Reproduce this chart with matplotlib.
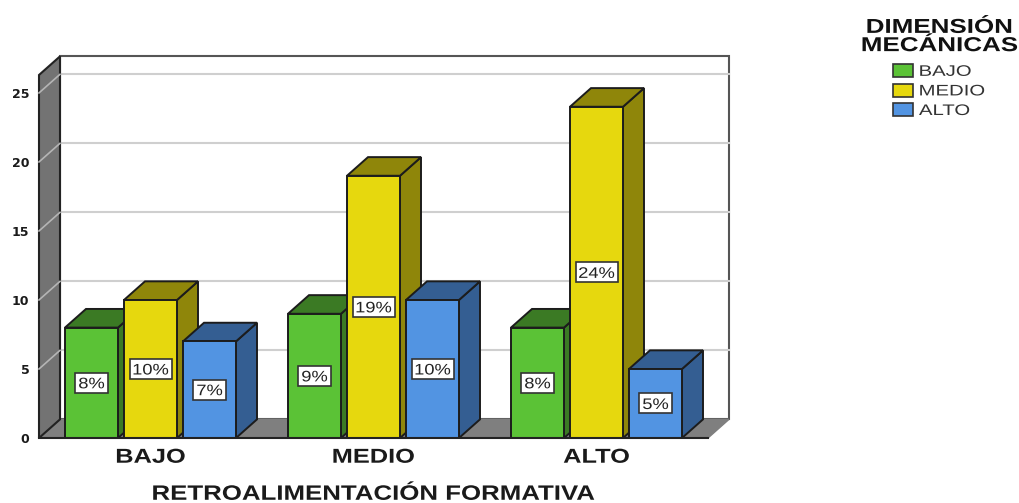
import matplotlib
matplotlib.use("Agg")
import matplotlib.pyplot as plt
from matplotlib.patches import Polygon, Rectangle
from matplotlib.patheffects import AbstractPathEffect
from matplotlib.transforms import Affine2D

categories = ["BAJO", "MEDIO", "ALTO"]
series_names = ["BAJO", "MEDIO", "ALTO"]
values_bajo = [8, 9, 8]
values_medio = [10, 19, 24]
values_alto = [7, 10, 5]
yticks = [0, 5, 10, 15, 20, 25]

front_colors = ["#5BC236", "#E6D80E", "#5294E2"]
top_colors = ["#3B7A24", "#8F860A", "#345E92"]
edge = "#1c1c1c"


class Stretch(AbstractPathEffect):
    # the reference text is wider than the font, stretch it sideways
    def __init__(self, sx, anchor=0.5):
        super().__init__()
        self.sx = sx
        self.anchor = anchor

    def draw_path(self, renderer, gc, tpath, affine, rgbFace=None):
        ext = tpath.get_extents()
        cx = ext.x0 + self.anchor * (ext.x1 - ext.x0)
        local = Affine2D().translate(-cx, 0).scale(self.sx, 1).translate(cx, 0)
        renderer.draw_path(gc, tpath, local + affine, rgbFace)


W, H = 1019, 503
fig = plt.figure(figsize=(W / 100, H / 100), dpi=100)
ax = fig.add_axes([39 / W, (H - 438) / H, 669 / W, 363 / H])
ax.set_xlim(-0.5, 2.5)
ax.set_ylim(0, 26.3)

# depth of the fake 3d box, in data units
ddx = 21 / 223
ddy = 1.35
top = 26.3
bar_w = 53 / 223
step = 59 / 223


def poly(pts, fc, ec=edge, lw=1.4, z=2):
    ax.add_patch(Polygon(pts, closed=True, fc=fc, ec=ec, lw=lw, zorder=z, clip_on=False))


# back wall, floor, left wall
poly([(-0.5 + ddx, ddy), (2.5 + ddx, ddy), (2.5 + ddx, top + ddy), (-0.5 + ddx, top + ddy)], "white", "#555555", 1.5, 1)
poly([(-0.5, 0), (2.5, 0), (2.5 + ddx, ddy), (-0.5 + ddx, ddy)], "#7F7F7F", "#7F7F7F", 1.0, 1.2)
for t in yticks[1:]:
    ax.plot([-0.5 + ddx, 2.5 + ddx], [t + ddy, t + ddy], color="#CFCFCF", lw=1.5, zorder=1.1, clip_on=False)
poly([(-0.5, 0), (-0.5 + ddx, ddy), (-0.5 + ddx, top + ddy), (-0.5, top)], "#737373", "#222222", 1.5, 1.3)
for t in yticks[1:]:
    ax.plot([-0.5, -0.5 + ddx], [t, t + ddy], color="#B5B5B5", lw=1.2, zorder=1.4, clip_on=False)

# bars, left to right so the later ones cover the sides of the earlier ones
all_values = [values_bajo, values_medio, values_alto]
z = 3
for c in range(len(categories)):
    for s in range(3):
        v = all_values[s][c]
        x0 = c + (s - 1) * step - bar_w / 2
        x1 = x0 + bar_w
        xm = (x0 + x1) / 2
        poly([(x1, 0), (x1 + ddx, ddy), (x1 + ddx, v + ddy), (x1, v)], top_colors[s], z=z)
        poly([(x0, v), (x1, v), (x1 + ddx, v + ddy), (x0 + ddx, v + ddy)], top_colors[s], z=z)
        poly([(x0, 0), (x1, 0), (x1, v), (x0, v)], front_colors[s], z=z + 0.1)
        box_w = (42 if v >= 10 else 33) / 223
        box_h = 20 / 13.8
        ax.add_patch(Rectangle((xm - box_w / 2, v / 2 - box_h / 2), box_w, box_h, fc="white",
                               ec="#333333", lw=1.2, zorder=49))
        ax.text(xm, v / 2, f"{v}%", ha="center", va="center_baseline", fontsize=11,
                family="Liberation Sans", color="#222222", zorder=50, path_effects=[Stretch(1.2)])
        z += 1

ax.set_xticks(range(len(categories)))
ax.set_xticklabels(categories, family="Liberation Sans", fontweight="bold", fontsize=14.5,
                   color="#1a1a1a", path_effects=[Stretch(1.26)])
ax.set_yticks(yticks)
ax.set_yticklabels([str(t) for t in yticks], family="DejaVu Sans", fontweight="bold", fontsize=9, color="#1a1a1a")
ax.tick_params(axis="both", length=0)
ax.tick_params(axis="x", pad=7)
ax.tick_params(axis="y", pad=7)
for name in ["top", "right", "left"]:
    ax.spines[name].set_visible(False)
ax.spines["bottom"].set_color("#222222")
ax.spines["bottom"].set_linewidth(1.5)
ax.spines["bottom"].set_zorder(40)
ax.set_xlabel("RETROALIMENTACIÓN FORMATIVA", family="Liberation Sans", fontweight="bold",
              fontsize=15, color="#1a1a1a", labelpad=13, path_effects=[Stretch(1.24)])

fig.text(939.5 / W, 1 - 36.5 / H, "DIMENSIÓN\nMECÁNICAS", ha="center", va="center", family="Liberation Sans",
         fontweight="bold", fontsize=14.5, linespacing=0.95, color="#111111", path_effects=[Stretch(1.29)])

handles = [Rectangle((0, 0), 1, 1, fc=front_colors[i], ec="#333333", lw=1.2) for i in range(3)]
leg = fig.legend(handles, series_names, loc="upper left", bbox_to_anchor=(893 / W, 1 - 64 / H),
                 frameon=False, handlelength=1.3, handleheight=0.95, handletextpad=0.4,
                 labelspacing=0.31, borderpad=0, borderaxespad=0,
                 prop={"family": "Liberation Sans", "size": 11})
for t in leg.get_texts():
    t.set_color("#333333")
    t.set_path_effects([Stretch(1.33, 0)])

fig.savefig("out.png", dpi=100)
